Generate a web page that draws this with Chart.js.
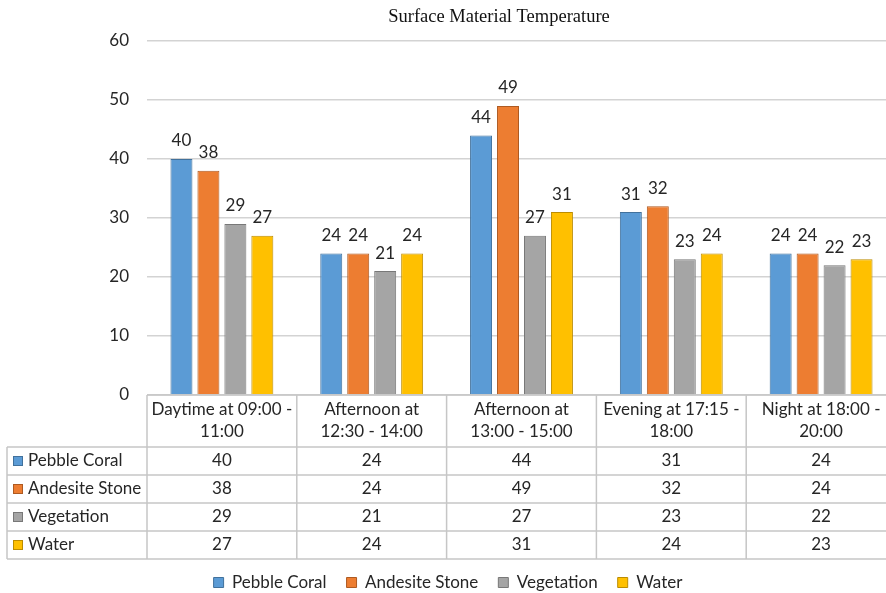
<!DOCTYPE html>
<html>
<head>
<meta charset="utf-8">
<script src="https://cdn.jsdelivr.net/npm/chart.js@4/dist/chart.umd.min.js"></script>
<style>
  html, body { margin: 0; padding: 0; background: #fff; overflow: hidden; }
  #wrap { width: 896px; height: 593px; }
</style>
</head>
<body>
<div id="wrap"><canvas id="chart" width="896" height="593"></canvas></div>
<script>
const chartTitle = "Surface Material Temperature";
const periods = [
  ["Daytime at 09:00 -", "11:00"],
  ["Afternoon at", "12:30 - 14:00"],
  ["Afternoon at", "13:00 - 15:00"],
  ["Evening at 17:15 -", "18:00"],
  ["Night at 18:00 -", "20:00"]
];
const seriesNames = ["Pebble Coral", "Andesite Stone", "Vegetation", "Water"];
const pebbleCoral = [40, 24, 44, 31, 24];
const andesiteStone = [38, 24, 49, 32, 24];
const vegetation = [29, 21, 27, 23, 22];
const water = [27, 24, 31, 24, 23];
const yMin = 0, yMax = 60, yStep = 10;

const fills = ["#5b9bd5", "#ed7d31", "#a5a5a5", "#ffc000"];
const borders = ["#41719c", "#ae5a21", "#787878", "#bc8c00"];
const allValues = [pebbleCoral, andesiteStone, vegetation, water];

const FONT = "Lato";
const TEXT = "#262626";

// value above every bar
const barLabels = {
  id: "barLabels",
  afterDatasetsDraw(chart) {
    const ctx = chart.ctx;
    ctx.save();
    ctx.font = "17px " + FONT;
    ctx.fillStyle = TEXT;
    ctx.textAlign = "center";
    ctx.textBaseline = "middle";
    chart.data.datasets.forEach((ds, i) => {
      chart.getDatasetMeta(i).data.forEach((bar, j) => {
        ctx.fillText(ds.data[j], bar.x, bar.y - 18);
      });
    });
    ctx.restore();
  }
};

// heading text
const heading = {
  id: "heading",
  afterDraw(chart) {
    const ctx = chart.ctx;
    ctx.save();
    ctx.font = "18.5px 'Liberation Serif'";
    ctx.fillStyle = "#111";
    ctx.textAlign = "center";
    ctx.textBaseline = "middle";
    ctx.fillText(chartTitle, 499, 17);
    ctx.restore();
  }
};

// data table under the plot
const dataTable = {
  id: "dataTable",
  afterDraw(chart) {
    const ctx = chart.ctx;
    const x = chart.scales.x;
    const area = chart.chartArea;
    const top = area.bottom;
    const headBottom = top + 52;
    const rowH = 28;
    const left = 7;
    const colW = x.width / periods.length;
    const right = area.right;
    const bottom = headBottom + rowH * seriesNames.length;

    ctx.save();
    ctx.strokeStyle = "#c6c6c6";
    ctx.lineWidth = 1.5;
    ctx.beginPath();
    ctx.moveTo(area.left, top);
    ctx.lineTo(right, top);
    for (let r = 0; r <= seriesNames.length; r++) {
      const y = headBottom + r * rowH;
      ctx.moveTo(left, y);
      ctx.lineTo(right, y);
    }
    ctx.moveTo(left, headBottom);
    ctx.lineTo(left, bottom);
    for (let c = 0; c <= periods.length; c++) {
      const cx = x.getPixelForValue(c) - colW / 2;
      ctx.moveTo(cx, top);
      ctx.lineTo(cx, bottom);
    }
    ctx.stroke();

    ctx.font = "17px " + FONT;
    ctx.fillStyle = TEXT;
    ctx.textBaseline = "middle";
    ctx.textAlign = "center";
    periods.forEach((lines, c) => {
      const cx = x.getPixelForValue(c);
      lines.forEach((ln, k) => ctx.fillText(ln, cx, top + 15 + k * 22));
      allValues.forEach((vals, r) => {
        ctx.fillText(vals[c], cx, headBottom + r * rowH + rowH / 2);
      });
    });

    ctx.textAlign = "left";
    seriesNames.forEach((name, r) => {
      const cy = headBottom + r * rowH + rowH / 2;
      ctx.fillStyle = fills[r];
      ctx.fillRect(13, cy - 5, 10, 10);
      ctx.strokeStyle = borders[r];
      ctx.lineWidth = 1;
      ctx.strokeRect(13.5, cy - 4.5, 9, 9);
      ctx.fillStyle = TEXT;
      ctx.fillText(name, 28, cy);
    });
    ctx.restore();
  }
};

new Chart(document.getElementById("chart"), {
  type: "bar",
  data: {
    labels: periods,
    datasets: seriesNames.map((name, i) => ({
      label: name,
      data: allValues[i],
      backgroundColor: fills[i],
      borderColor: borders[i],
      borderWidth: 1,
      categoryPercentage: 0.72,
      barPercentage: 0.815
    }))
  },
  options: {
    responsive: false,
    animation: false,
    layout: { padding: { top: 41, left: 0, right: 0, bottom: -8 } },
    scales: {
      x: {
        ticks: { display: false },
        grid: { display: false },
        border: { display: false },
        afterFit(s) { s.height = 159; }
      },
      y: {
        min: yMin,
        max: yMax,
        ticks: { stepSize: yStep, padding: 18, color: TEXT, font: { family: FONT, size: 17 } },
        grid: { color: "#d3d3d3", lineWidth: 1.5, drawTicks: false },
        border: { display: false },
        afterFit(s) { s.width = 147; }
      }
    },
    plugins: {
      legend: {
        position: "bottom",
        labels: {
          boxWidth: 10,
          boxHeight: 10,
          padding: 20,
          color: TEXT,
          font: { family: FONT, size: 17 }
        }
      },
      tooltip: { enabled: false }
    }
  },
  plugins: [barLabels, heading, dataTable]
});
</script>
</body>
</html>
